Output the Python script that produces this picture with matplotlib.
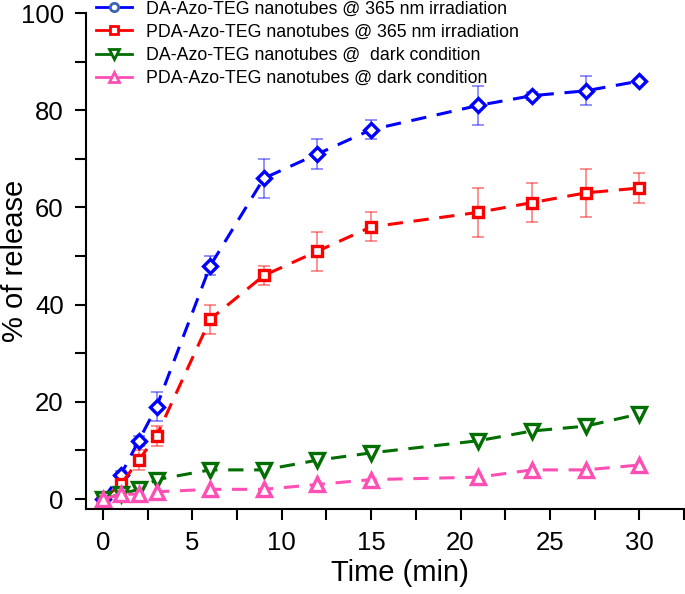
import numpy as np
import matplotlib.pyplot as plt
from matplotlib.lines import Line2D
from matplotlib.ticker import MultipleLocator

plt.rcParams['font.family'] = ['Liberation Sans', 'DejaVu Sans']

# --- data ---
time = [0, 1, 2, 3, 6, 9, 12, 15, 21, 24, 27, 30]

da_uv = [0, 5, 12, 19, 48, 66, 71, 76, 81, 83, 84, 86]
da_uv_err = [0, 0.8, 1, 3, 2, 4, 3, 2, 4, 0.8, 3, 0.5]

pda_uv = [0, 3, 8, 13, 37, 46, 51, 56, 59, 61, 63, 64]
pda_uv_err = [0, 1, 2, 2, 3, 2, 4, 3, 5, 4, 5, 3]

da_dark = [0, 1, 2, 4, 6, 6, 8, 9.5, 12, 14, 15, 17.5]
pda_dark = [0, 1, 1, 1.5, 2, 2, 3, 4, 4.5, 6, 6, 7]

labels = ['DA-Azo-TEG nanotubes @ 365 nm irradiation',
          'PDA-Azo-TEG nanotubes @ 365 nm irradiation',
          'DA-Azo-TEG nanotubes @  dark condition',
          'PDA-Azo-TEG nanotubes @ dark condition']

blue = '#0000ff'
red = '#ff0000'
green = '#006e00'
pink = '#ff4fb4'

fig = plt.figure(figsize=(6.85, 5.94), dpi=100)
ax = fig.add_axes([0.1255, 0.143, 0.873, 0.835])

# error bars (lighter) then the lines
ax.errorbar(time, da_uv, yerr=da_uv_err, fmt='none', ecolor=blue, alpha=0.5,
            elinewidth=1.2, capsize=4, capthick=1.2)
ax.errorbar(time, pda_uv, yerr=pda_uv_err, fmt='none', ecolor=red, alpha=0.5,
            elinewidth=1.2, capsize=4, capthick=1.2)

dash = (5, 3.5)
ax.plot(time, da_uv, '--', color=blue, lw=2.2, dashes=dash,
        marker='D', ms=7.5, mfc='white', mec=blue, mew=2.4)
ax.plot(time, pda_uv, '--', color=red, lw=2.2, dashes=dash,
        marker='s', ms=7.5, mfc='white', mec=red, mew=2.4)
ax.plot(time, da_dark, '--', color=green, lw=2.2, dashes=dash,
        marker='v', ms=9.5, mfc='white', mec=green, mew=2.4)
ax.plot(time, pda_dark, '--', color=pink, lw=2.2, dashes=dash,
        marker='^', ms=9.5, mfc='white', mec=pink, mew=2.4)

handles = [
    Line2D([], [], color=blue, lw=2, marker='o', ms=6, mfc='white', mec='#3c64b4', mew=2),
    Line2D([], [], color=red, lw=2, marker='s', ms=6, mfc='white', mec=red, mew=2),
    Line2D([], [], color=green, lw=2, marker='v', ms=7, mfc='white', mec=green, mew=2),
    Line2D([], [], color=pink, lw=2, marker='^', ms=7, mfc='white', mec=pink, mew=2),
]
ax.legend(handles, labels, loc='upper left', bbox_to_anchor=(0.005, 1.04),
          frameon=False, fontsize=12.8, handlelength=2.0, handletextpad=0.8,
          labelspacing=0.35, borderaxespad=0)

ax.set_xlim(-0.95, 32.5)
ax.set_ylim(-2.06, 100)
ax.xaxis.set_major_locator(MultipleLocator(5))
ax.xaxis.set_minor_locator(MultipleLocator(2.5))
ax.yaxis.set_major_locator(MultipleLocator(20))
ax.yaxis.set_minor_locator(MultipleLocator(10))

for s in ['top', 'right']:
    ax.spines[s].set_visible(False)
for s in ['left', 'bottom']:
    ax.spines[s].set_linewidth(1.5)

ax.tick_params(which='both', direction='out', length=8, width=1.5, labelsize=18.5)
ax.tick_params(axis='x', pad=8)
ax.tick_params(axis='y', pad=8)
ax.set_xlabel('Time (min)', fontsize=21)
ax.set_ylabel('% of release', fontsize=21)
ax.xaxis.set_label_coords(0.525, -0.1)
ax.yaxis.set_label_coords(-0.095, 0.5)

fig.savefig('out.png', dpi=100)
